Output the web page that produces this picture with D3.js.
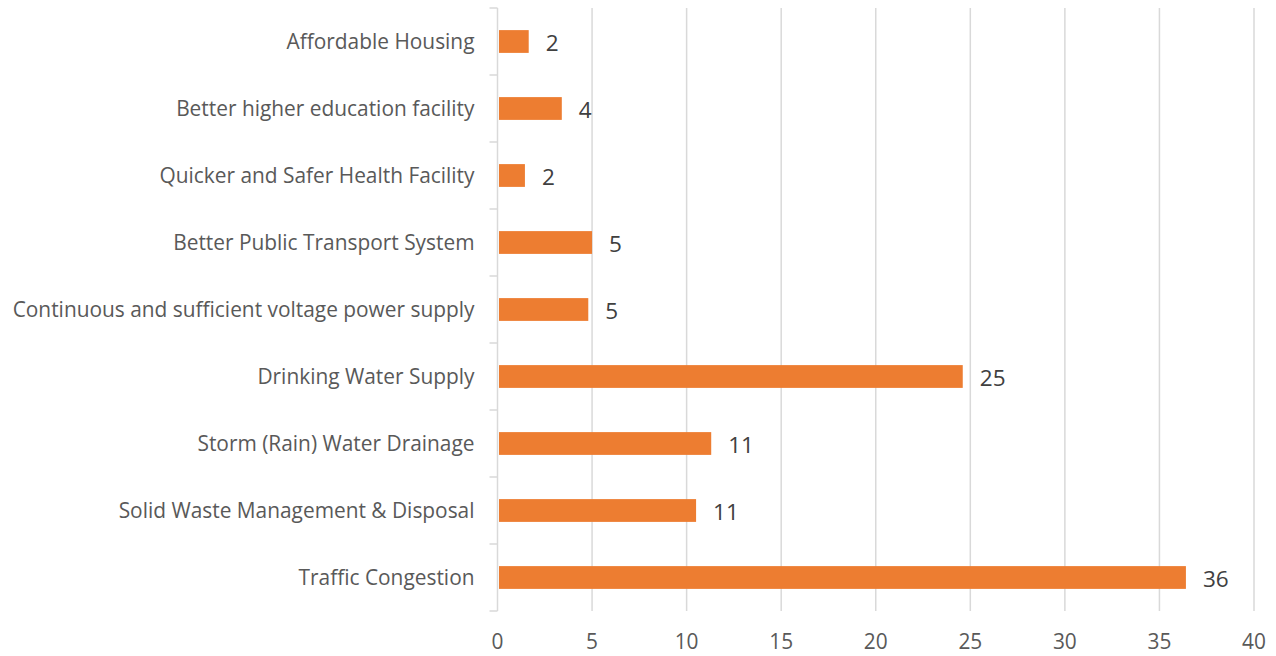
<!DOCTYPE html>
<html>
<head>
<meta charset="utf-8">
<script src="https://cdn.jsdelivr.net/npm/d3@7"></script>
<style>
  body { margin: 0; background: #fff; }
  svg text { font-family: "Open Sans", "Noto Sans", sans-serif; fill: #595959; }
</style>
</head>
<body>
<div id="chart"></div>
<script>
const categories = [
    "Affordable Housing",
    "Better higher education facility",
    "Quicker and Safer Health Facility",
    "Better Public Transport System",
    "Continuous and sufficient voltage power supply",
    "Drinking Water Supply",
    "Storm (Rain) Water Drainage",
    "Solid Waste Management & Disposal",
    "Traffic Congestion"
];
const values = [1.65, 3.4, 1.45, 5.0, 4.8, 24.6, 11.3, 10.5, 36.4];
const valueLabels = ["2", "4", "2", "5", "5", "25", "11", "11", "36"];
const xTicks = [0, 5, 10, 15, 20, 25, 30, 35, 40];

const width = 1276;
const height = 656;
const margin = { top: 8, right: 22, bottom: 45, left: 497.5 };

const svg = d3.select("#chart").append("svg")
    .attr("width", width)
    .attr("height", height);

// pick a font size so the longest category spans like the original (~462px)
const probe = svg.append("text").style("font-size", "20px")
    .text("Continuous and sufficient voltage power supply");
const fontSize = 20 * 462 / probe.node().getComputedTextLength();
probe.remove();

const x = d3.scaleLinear()
    .domain([0, 40])
    .range([margin.left, width - margin.right]);

const y = d3.scaleBand()
    .domain(categories)
    .range([margin.top, height - margin.bottom])
    .paddingInner(0.66)
    .paddingOuter(0.33);

// gridlines
svg.append("g")
    .selectAll("line")
    .data(xTicks.slice(1))
    .enter()
    .append("line")
    .attr("x1", d => x(d))
    .attr("x2", d => x(d))
    .attr("y1", margin.top)
    .attr("y2", height - margin.bottom)
    .attr("stroke", "#d9d9d9")
    .attr("stroke-width", 1.5);

// left axis line with ticks between categories
const axisG = svg.append("g");
axisG.append("line")
    .attr("x1", x(0)).attr("x2", x(0))
    .attr("y1", margin.top).attr("y2", height - margin.bottom)
    .attr("stroke", "#d9d9d9")
    .attr("stroke-width", 1.5);
axisG.selectAll(".tick")
    .data(d3.range(categories.length + 1))
    .enter()
    .append("line")
    .attr("x1", x(0) - 8).attr("x2", x(0))
    .attr("y1", i => margin.top + i * y.step())
    .attr("y2", i => margin.top + i * y.step())
    .attr("stroke", "#d9d9d9")
    .attr("stroke-width", 1.5);

// bars
svg.append("g")
    .selectAll("rect")
    .data(values)
    .enter()
    .append("rect")
    .attr("x", x(0) + 1.5)
    .attr("y", (d, i) => y(categories[i]))
    .attr("width", d => x(d) - x(0) - 1.5)
    .attr("height", y.bandwidth())
    .attr("fill", "#ED7D31");

// value labels
svg.append("g")
    .selectAll("text")
    .data(values)
    .enter()
    .append("text")
    .attr("x", d => x(d) + 17)
    .attr("y", (d, i) => y(categories[i]) + y.bandwidth() / 2 + 1)
    .attr("dy", "0.36em")
    .style("font-size", (fontSize * 1.08) + "px")
    .style("fill", "#404040")
    .text((d, i) => valueLabels[i]);

// category labels
svg.append("g")
    .selectAll("text")
    .data(categories)
    .enter()
    .append("text")
    .attr("x", x(0) - 23)
    .attr("y", d => y(d) + y.bandwidth() / 2)
    .attr("dy", "0.36em")
    .attr("text-anchor", "end")
    .style("font-size", fontSize + "px")
    .text(d => d);

// x tick labels
svg.append("g")
    .selectAll("text")
    .data(xTicks)
    .enter()
    .append("text")
    .attr("x", d => x(d))
    .attr("y", 641)
    .attr("dy", "0.36em")
    .attr("text-anchor", "middle")
    .style("font-size", fontSize + "px")
    .text(d => d);
</script>
</body>
</html>
